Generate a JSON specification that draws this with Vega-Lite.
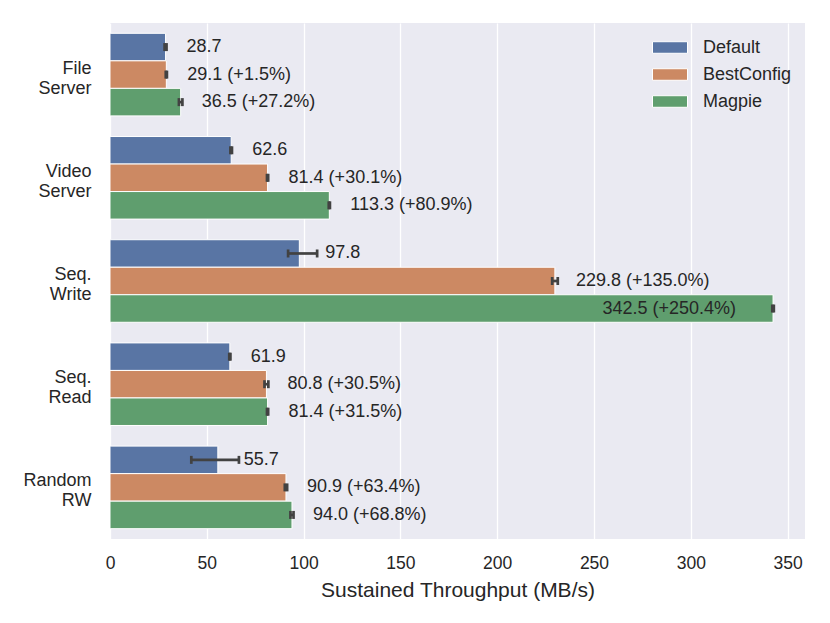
{
  "$schema": "https://vega.github.io/schema/vega-lite/v6.json",
  "width": 695,
  "height": 516,
  "autosize": "none",
  "padding": {"left": 110, "top": 23, "right": 25, "bottom": 84},
  "background": "white",
  "config": {
    "view": {"fill": "#EAEAF2", "stroke": null},
    "font": "Liberation Sans",
    "text": {"font": "Liberation Sans"}
  },
  "data": {
    "values": [
      {"workload": "File Server", "config": "Default", "value": 28.7, "lo": 28.2, "hi": 29.2, "label": "28.7"},
      {"workload": "File Server", "config": "BestConfig", "value": 29.1, "lo": 28.8, "hi": 29.4, "label": "29.1 (+1.5%)"},
      {"workload": "File Server", "config": "Magpie", "value": 36.5, "lo": 35.6, "hi": 37.4, "label": "36.5 (+27.2%)"},
      {"workload": "Video Server", "config": "Default", "value": 62.6, "lo": 62.2, "hi": 63.0, "label": "62.6"},
      {"workload": "Video Server", "config": "BestConfig", "value": 81.4, "lo": 81.1, "hi": 81.7, "label": "81.4 (+30.1%)"},
      {"workload": "Video Server", "config": "Magpie", "value": 113.3, "lo": 113.0, "hi": 113.6, "label": "113.3 (+80.9%)"},
      {"workload": "Seq. Write", "config": "Default", "value": 97.8, "lo": 92.0, "hi": 107.0, "label": "97.8"},
      {"workload": "Seq. Write", "config": "BestConfig", "value": 229.8, "lo": 228.4, "hi": 231.3, "label": "229.8 (+135.0%)"},
      {"workload": "Seq. Write", "config": "Magpie", "value": 342.5, "lo": 342.1, "hi": 342.9, "label": "342.5 (+250.4%)"},
      {"workload": "Seq. Read", "config": "Default", "value": 61.9, "lo": 61.6, "hi": 62.2, "label": "61.9"},
      {"workload": "Seq. Read", "config": "BestConfig", "value": 80.8, "lo": 79.8, "hi": 81.8, "label": "80.8 (+30.5%)"},
      {"workload": "Seq. Read", "config": "Magpie", "value": 81.4, "lo": 81.1, "hi": 81.7, "label": "81.4 (+31.5%)"},
      {"workload": "Random RW", "config": "Default", "value": 55.7, "lo": 42.0, "hi": 66.6, "label": "55.7"},
      {"workload": "Random RW", "config": "BestConfig", "value": 90.9, "lo": 90.3, "hi": 91.5, "label": "90.9 (+63.4%)"},
      {"workload": "Random RW", "config": "Magpie", "value": 94.0, "lo": 93.2, "hi": 94.8, "label": "94.0 (+68.8%)"}
    ]
  },
  "encoding": {
    "y": {
      "field": "workload",
      "type": "nominal",
      "sort": ["File Server", "Video Server", "Seq. Write", "Seq. Read", "Random RW"],
      "scale": {"paddingInner": 0.2, "paddingOuter": 0.1},
      "axis": {
        "title": null,
        "labelExpr": "split(datum.label, ' ')",
        "labelFontSize": 18,
        "labelColor": "#262626",
        "labelPadding": 19,
        "labelLineHeight": 20,
        "labelOffset": -6,
        "ticks": false,
        "domain": false,
        "grid": false
      }
    },
    "yOffset": {
      "field": "config",
      "type": "nominal",
      "sort": ["Default", "BestConfig", "Magpie"],
      "scale": {"paddingInner": 0, "paddingOuter": 0}
    }
  },
  "layer": [
    {
      "mark": {"type": "bar", "stroke": "white", "strokeWidth": 1},
      "encoding": {
        "x": {
          "field": "value",
          "type": "quantitative",
          "scale": {"domain": [0, 359], "nice": false},
          "axis": {
            "title": "Sustained Throughput (MB/s)",
            "values": [0, 50, 100, 150, 200, 250, 300, 350],
            "titleFontSize": 21,
            "titleFontWeight": "normal",
            "titleColor": "#262626",
            "titlePadding": 8,
            "labelFontSize": 17.5,
            "labelColor": "#262626",
            "labelPadding": 15,
            "labelFlush": false,
            "ticks": false,
            "domain": false,
            "grid": true,
            "gridColor": "white",
            "gridWidth": 1.3
          }
        },
        "color": {
          "field": "config",
          "type": "nominal",
          "sort": ["Default", "BestConfig", "Magpie"],
          "scale": {"domain": ["Default", "BestConfig", "Magpie"], "range": ["#5975a4", "#cc8963", "#5f9e6e"]},
          "legend": {
            "title": null,
            "orient": "none",
            "legendX": 542,
            "legendY": 6.5,
            "padding": 0,
            "labelFontSize": 18,
            "labelColor": "#262626",
            "labelOffset": 15,
            "rowPadding": -2.3,
            "symbolType": "M-1,-0.33H1V0.33H-1Z",
            "symbolSize": 1225,
            "symbolStrokeColor": "white",
            "symbolStrokeWidth": 1,
            "symbolOpacity": 1
          }
        }
      }
    },
    {
      "mark": {"type": "rule", "color": "#424242", "strokeWidth": 2.7},
      "encoding": {
        "x": {"field": "lo", "type": "quantitative"},
        "x2": {"field": "hi"}
      }
    },
    {
      "mark": {"type": "tick", "color": "#424242", "thickness": 2.7, "size": 8, "opacity": 1},
      "encoding": {
        "x": {"field": "lo", "type": "quantitative"}
      }
    },
    {
      "mark": {"type": "tick", "color": "#424242", "thickness": 2.7, "size": 8, "opacity": 1},
      "encoding": {
        "x": {"field": "hi", "type": "quantitative"}
      }
    },
    {
      "transform": [{"filter": "datum.value < 300 && datum.hi - datum.lo < 5"}],
      "mark": {"type": "text", "align": "left", "baseline": "middle", "dx": 21, "fontSize": 18, "color": "#262626"},
      "encoding": {
        "x": {"field": "value", "type": "quantitative"},
        "text": {"field": "label"}
      }
    },
    {
      "transform": [{"filter": "datum.hi - datum.lo >= 5"}],
      "mark": {"type": "text", "align": "left", "baseline": "middle", "dx": 26, "fontSize": 18, "color": "#262626"},
      "encoding": {
        "x": {"field": "value", "type": "quantitative"},
        "text": {"field": "label"}
      }
    },
    {
      "transform": [{"filter": "datum.value >= 300"}],
      "mark": {"type": "text", "align": "right", "baseline": "middle", "dx": -37, "fontSize": 18, "color": "#262626"},
      "encoding": {
        "x": {"field": "value", "type": "quantitative"},
        "text": {"field": "label"}
      }
    }
  ]
}
